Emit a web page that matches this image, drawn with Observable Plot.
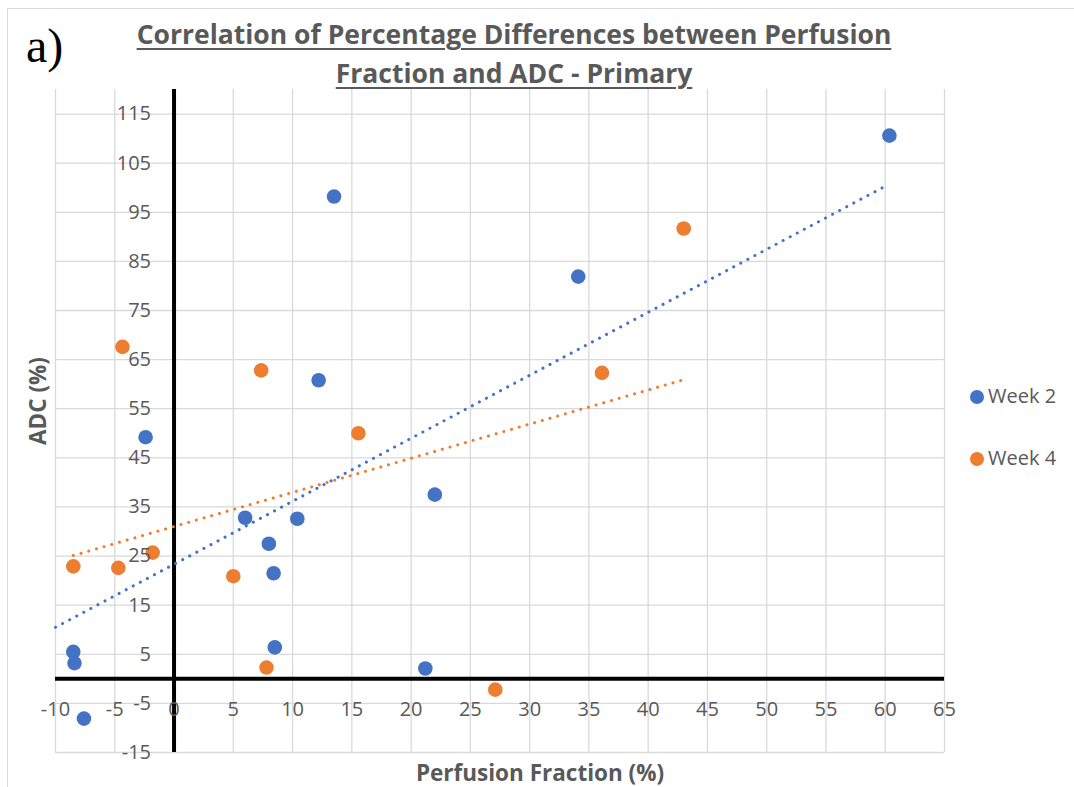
<!DOCTYPE html>
<html>
<head>
<meta charset="utf-8">
<script src="https://cdn.jsdelivr.net/npm/d3@7"></script>
<script src="https://cdn.jsdelivr.net/npm/@observablehq/plot@0.6"></script>
<style>
  body { margin: 0; background: #fff; }
  #wrap { position: relative; width: 1074px; height: 787px; overflow: hidden; font-family: "Open Sans", sans-serif; color: #595959; }
  #border { position: absolute; left: 7px; top: 8px; width: 1200px; height: 900px; border-left: 1px solid #d9d9d9; border-top: 1px solid #d9d9d9; }
  #chart { position: absolute; left: 0; top: 0; }
  #panel { position: absolute; left: 26px; top: 22px; font-family: "Liberation Serif", serif; font-size: 48px; color: #000; line-height: 48px; }
  #title { position: absolute; left: 0; width: 1028px; top: 15px; text-align: center; font-weight: bold; font-size: 26.5px; line-height: 39px; text-decoration: underline; text-decoration-thickness: 2px; text-underline-offset: 4px; }
  #ytitle { position: absolute; left: 37px; top: 401px; transform: translate(-50%, -50%) rotate(-90deg); font-weight: bold; font-size: 22.5px; white-space: nowrap; }
  #xtitle { position: absolute; left: 540px; top: 772px; transform: translate(-50%, -50%); font-weight: bold; font-size: 22.5px; white-space: nowrap; }
  .leg { position: absolute; left: 970px; font-size: 20px; white-space: nowrap; line-height: 24px; }
  .leg span.dot { display: inline-block; width: 14px; height: 14px; border-radius: 50%; margin-right: 4px; vertical-align: -1px; }
</style>
</head>
<body>
<div id="wrap">
  <div id="border"></div>
  <div id="chart"></div>
  <div id="panel">a)</div>
  <div id="title">Correlation of Percentage Differences between Perfusion<br>Fraction and ADC - Primary</div>
  <div id="ytitle">ADC (%)</div>
  <div id="xtitle">Perfusion Fraction (%)</div>
  <div class="leg" style="top:384px"><span class="dot" style="background:#4472C4"></span>Week 2</div>
  <div class="leg" style="top:446px"><span class="dot" style="background:#ED7D31"></span>Week 4</div>
</div>
<script>
// Week 2 measurements: perfusion fraction change vs ADC change (%)
const week2X = [60.35, 13.5, 34.1, 12.2, -2.4, 22.0, 6.0, 10.4, 8.0, 8.4, 8.5, -8.5, -8.4, 21.2, -7.6];
const week2Y = [110.6, 98.2, 81.9, 60.8, 49.2, 37.5, 32.8, 32.6, 27.5, 21.5, 6.4, 5.5, 3.2, 2.1, -8.1];

// Week 4 measurements
const week4X = [43.0, -4.35, 7.35, 36.1, 15.55, -1.8, -8.5, -4.7, 5.0, 7.8, 27.1];
const week4Y = [91.7, 67.6, 62.8, 62.3, 50.0, 25.7, 22.9, 22.6, 20.9, 2.3, -2.2];

// Linear trend lines (end points)
const week2TrendX = [-10, 60];
const week2TrendY = [10.5, 100.3];
const week4TrendX = [-8.5, 43.0];
const week4TrendY = [25.1, 60.9];

// Axis ticks
const xTicks = [-10, -5, 0, 5, 10, 15, 20, 25, 30, 35, 40, 45, 50, 55, 60, 65];
const yTicks = [-15, -5, 5, 15, 25, 35, 45, 55, 65, 75, 85, 95, 105, 115];

const blue = "#4472C4";
const orange = "#ED7D31";

const toPoints = (xs, ys) => xs.map((x, i) => ({x, y: ys[i]}));
const week2 = toPoints(week2X, week2Y);
const week4 = toPoints(week4X, week4Y);
const trend2 = toPoints(week2TrendX, week2TrendY);
const trend4 = toPoints(week4TrendX, week4TrendY);

const chart = Plot.plot({
  width: 1074,
  height: 787,
  marginLeft: 55,
  marginRight: 130,
  marginTop: 89,
  marginBottom: 35,
  x: {domain: [-10, 65], axis: null},
  y: {domain: [-15, 120], axis: null},
  style: {background: "transparent", fontFamily: "'Open Sans', sans-serif"},
  marks: [
    Plot.gridX(xTicks, {stroke: "#d9d9d9", strokeOpacity: 1, strokeWidth: 1.3}),
    Plot.gridY(yTicks, {stroke: "#d9d9d9", strokeOpacity: 1, strokeWidth: 1.3}),
    Plot.ruleY([0], {stroke: "#000", strokeWidth: 4}),
    Plot.ruleX([0], {stroke: "#000", strokeWidth: 4}),
    Plot.line(trend2, {x: "x", y: "y", stroke: blue, strokeWidth: 3, strokeLinecap: "round", strokeDasharray: "0.1 7.9"}),
    Plot.line(trend4, {x: "x", y: "y", stroke: orange, strokeWidth: 3, strokeLinecap: "round", strokeDasharray: "0.1 7.9"}),
    Plot.dot(week2, {x: "x", y: "y", r: 7.3, fill: blue, stroke: "none"}),
    Plot.dot(week4, {x: "x", y: "y", r: 7.3, fill: orange, stroke: "none"}),
    Plot.text(xTicks, {x: d => d, y: () => 0, dy: 31, text: d => String(d), fontSize: 20, fill: "#595959"}),
    Plot.text(yTicks, {x: () => 0, y: d => d, dx: -23, textAnchor: "end", text: d => String(d), fontSize: 20, fill: "#595959"})
  ]
});
document.getElementById("chart").appendChild(chart);
</script>
</body>
</html>
